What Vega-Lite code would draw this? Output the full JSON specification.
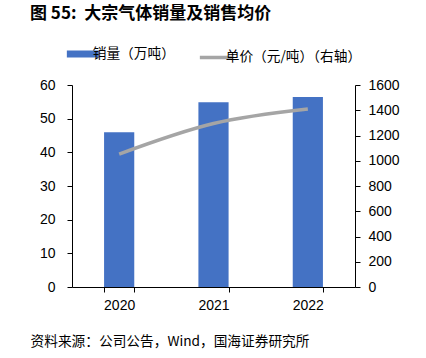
{
  "$schema": "https://vega.github.io/schema/vega-lite/v6.json",
  "width": 283,
  "height": 202,
  "autosize": {"type": "none"},
  "padding": {"left": 72, "top": 85, "right": 71, "bottom": 71},
  "background": "white",
  "title": {
    "text": "图 55:\u00a0\u00a0大宗气体销量及销售均价",
    "anchor": "start",
    "frame": "group",
    "align": "left",
    "dx": -42,
    "fontSize": 17,
    "font": "Noto Sans CJK SC",
    "fontWeight": "bold",
    "color": "#000000",
    "offset": 24
  },
  "data": {
    "values": [
      {"year": "2020", "volume": 46.0, "price": 1053},
      {"year": "2021", "volume": 54.9, "price": 1295},
      {"year": "2022", "volume": 56.4, "price": 1410}
    ]
  },
  "encoding": {
    "x": {
      "field": "year",
      "type": "ordinal",
      "scale": {"paddingInner": 0.68, "paddingOuter": 0.34},
      "axis": {
        "labelAngle": 0,
        "tickBand": "extent",
        "tickSize": 5,
        "tickColor": "#000000",
        "domainColor": "#000000",
        "labelColor": "#000000",
        "labelFont": "Liberation Sans",
        "labelFontSize": 14,
        "labelPadding": 6,
        "title": "资料来源：公司公告，Wind，国海证券研究所",
        "titleFont": "Noto Sans CJK SC",
        "titleFontSize": 13.7,
        "titleFontWeight": "normal",
        "titleColor": "#000000",
        "titleAnchor": "start",
        "titleAlign": "left",
        "titleBaseline": "middle",
        "titleX": -42,
        "titleY": 54
      }
    }
  },
  "layer": [
    {
      "mark": {"type": "bar", "color": "#4472C4"},
      "encoding": {
        "y": {
          "field": "volume",
          "type": "quantitative",
          "scale": {"domain": [0, 60]},
          "axis": {
            "title": null,
            "values": [0, 10, 20, 30, 40, 50, 60],
            "grid": false,
            "tickSize": 5,
            "tickColor": "#000000",
            "domainColor": "#000000",
            "labelColor": "#000000",
            "labelFont": "Liberation Sans",
            "labelFontSize": 14,
            "labelPadding": 12
          }
        },
        "color": {
          "datum": "销量（万吨）",
          "type": "nominal",
          "scale": {
            "domain": ["销量（万吨）", "单价（元/吨）（右轴）"],
            "range": ["#4472C4", "#A5A5A5"]
          },
          "legend": {
            "title": null,
            "orient": "none",
            "direction": "horizontal",
            "legendX": 4,
            "legendY": -38,
            "symbolType": "stroke",
            "symbolSize": 1024,
            "symbolStrokeWidth": 3,
            "labelFont": "Noto Sans CJK SC",
            "labelFontSize": 13.7,
            "labelColor": "#000000",
            "labelOffset": 3,
            "columnPadding": 17,
            "encode": {
              "symbols": {
                "update": {
                  "stroke": {"scale": "color", "field": "value"},
                  "strokeWidth": {"signal": "datum.value === '销量（万吨）' ? 7 : 3.5"}
                }
              }
            }
          }
        }
      }
    },
    {
      "mark": {"type": "line", "color": "#A5A5A5", "strokeWidth": 3.5, "interpolate": "monotone"},
      "encoding": {
        "y": {
          "field": "price",
          "type": "quantitative",
          "scale": {"domain": [0, 1600]},
          "axis": {
            "orient": "right",
            "title": null,
            "format": "d",
            "values": [0, 200, 400, 600, 800, 1000, 1200, 1400, 1600],
            "grid": false,
            "tickSize": 5,
            "tickColor": "#000000",
            "domainColor": "#000000",
            "labelColor": "#000000",
            "labelFont": "Liberation Sans",
            "labelFontSize": 14,
            "labelPadding": 8
          }
        },
        "color": {"datum": "单价（元/吨）（右轴）", "type": "nominal"}
      }
    }
  ],
  "resolve": {"scale": {"y": "independent"}},
  "config": {"view": {"stroke": null}}
}
